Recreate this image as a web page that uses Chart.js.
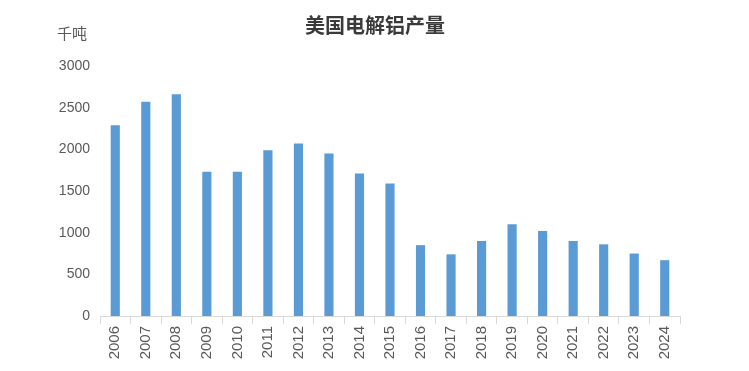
<!DOCTYPE html>
<html><head><meta charset="utf-8">
<script src="https://cdn.jsdelivr.net/npm/chart.js@4/dist/chart.umd.min.js"></script>
<style>html,body{margin:0;padding:0;background:#fff}#w{width:749px;height:371px}</style>
</head><body><div id="w"><canvas id="c"></canvas></div>
<script>
const categories = ["2006","2007","2008","2009","2010","2011","2012","2013","2014","2015","2016","2017","2018","2019","2020","2021","2022","2023","2024"];
const production = [2290,2570,2660,1730,1730,1990,2070,1950,1710,1590,850,740,900,1100,1020,900,860,750,670];
const yTicks = [0,500,1000,1500,2000,2500,3000];
const titleText = "美国电解铝产量";
const unitText = "千吨";

const textPlugin = {
  id:'texts',
  afterDraw(chart){
    const ctx = chart.ctx;
    ctx.save();
    ctx.fillStyle = '#3a3a3a';
    ctx.font = 'bold 20px "Noto Sans CJK SC"';
    ctx.textAlign = 'center'; ctx.textBaseline = 'middle';
    ctx.fillText(titleText, 375, 25);
    ctx.fillStyle = '#595959';
    ctx.font = '15px "Noto Sans CJK SC"';
    ctx.textAlign = 'left';
    ctx.fillText(unitText, 57, 33);
    ctx.restore();
  }
};

new Chart(document.getElementById('c'), {
  type:'bar',
  data:{labels:categories, datasets:[{data:production, backgroundColor:'#5b9bd5', barPercentage:0.6, categoryPercentage:0.5}]},
  options:{
    responsive:true, maintainAspectRatio:false, animation:false,
    layout:{padding:{left:0,right:69,top:66,bottom:0}},
    plugins:{legend:{display:false}, tooltip:{enabled:false}, title:{display:false}},
    scales:{
      x:{
        grid:{display:true, drawOnChartArea:false, tickLength:8, color:'#d9d9d9', offset:true},
        border:{display:true, color:'#d9d9d9'},
        ticks:{minRotation:90, maxRotation:90, color:'#595959', font:{family:'"Liberation Sans"', size:15}, padding:2},
        afterFit(s){ s.height = 55; }
      },
      y:{
        min:0, max:3000,
        afterBuildTicks(s){ s.ticks = yTicks.map(v=>({value:v})); },
        grid:{display:false}, border:{display:false},
        ticks:{color:'#595959', font:{family:'"Liberation Sans"', size:14}, padding:2, callback:v=>String(v)},
        afterFit(s){ s.width = 100; }
      }
    }
  },
  plugins:[textPlugin]
});
</script></body></html>
